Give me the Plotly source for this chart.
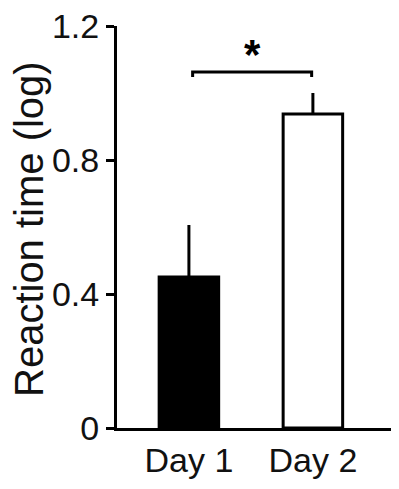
import plotly.graph_objects as go

categories = ["Day 1", "Day 2"]
values = [0.451, 0.937]
errors_up = [0.155, 0.063]
bar_colors = ["black", "white"]
y_ticks = [0, 0.4, 0.8, 1.2]
y_tick_labels = ["0", "0.4", "0.8", "1.2"]

FONT = "Liberation Sans, Arial, sans-serif"

fig = go.Figure()
fig.add_trace(go.Bar(
    x=[0, 1],
    y=values,
    width=0.48,
    marker=dict(color=bar_colors, line=dict(color="black", width=3)),
    error_y=dict(type="data", symmetric=False, array=errors_up,
                 arrayminus=[0, 0], width=0, thickness=3, color="black"),
    showlegend=False,
))

# significance bracket
fig.add_shape(type="path",
              path="M 0.03,1.048 L 0.03,1.063 L 0.99,1.063 L 0.99,1.048",
              xref="x", yref="y", line=dict(color="black", width=3))
fig.add_annotation(x=0.51, y=1.115, xref="x", yref="y", text="<b>*</b>",
                   showarrow=False, font=dict(family=FONT, size=42, color="black"),
                   yanchor="middle")

# y axis title
fig.add_annotation(x=0, y=0.5, xref="paper", yref="paper",
                   text="Reaction time (log)", textangle=-90, showarrow=False,
                   xshift=-88, yshift=-2, font=dict(family=FONT, size=40, color="#111"),
                   xanchor="center", yanchor="middle")

fig.update_layout(
    width=399, height=489,
    margin=dict(l=117, r=8, t=26, b=61),
    plot_bgcolor="white", paper_bgcolor="white",
    font=dict(family=FONT, size=34, color="#111"),
    xaxis=dict(range=[-0.58, 1.63], tickvals=[0, 1], ticktext=categories,
               showline=True, linecolor="black", linewidth=3, ticks="",
               showgrid=False, zeroline=False, tickfont=dict(size=34)),
    yaxis=dict(range=[0, 1.2], tickvals=y_ticks, ticktext=y_tick_labels,
               showline=True, linecolor="black", linewidth=3, ticks="outside",
               ticklen=8, tickwidth=3, tickcolor="black", showgrid=False,
               zeroline=False, tickfont=dict(size=34), ticklabeloverflow="allow"),
)

fig.write_html("out.html", config={"displayModeBar": False},
               post_script="document.body.style.margin='0';document.body.style.overflow='hidden';")
